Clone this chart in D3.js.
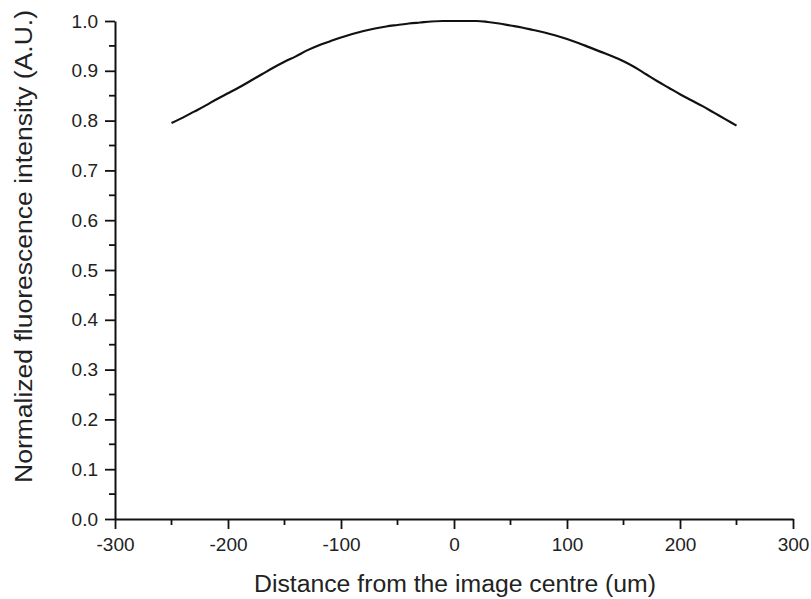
<!DOCTYPE html>
<html>
<head>
<meta charset="utf-8">
<script src="https://cdn.jsdelivr.net/npm/d3@7"></script>
<style>
  html, body { margin: 0; padding: 0; background: #fff; }
  svg { display: block; font-family: "Liberation Sans", Arial, sans-serif; }
</style>
</head>
<body>
<svg id="chart" width="811" height="599"></svg>
<script>
// Distance from image centre (um)
const distance = [-250,-240,-230,-220,-210,-200,-190,-180,-170,-160,-150,-140,-130,-120,-110,-100,-90,-80,-70,-60,-50,-40,-30,-20,-10,0,10,20,30,40,50,60,70,80,90,100,110,120,130,140,150,160,170,180,190,200,210,220,230,240,250];
// Normalized fluorescence intensity (A.U.)
const intensity = [0.795,0.806,0.818,0.830,0.843,0.855,0.867,0.880,0.893,0.906,0.918,0.929,0.941,0.951,0.959,0.967,0.974,0.980,0.985,0.989,0.992,0.995,0.997,0.999,1.000,1.000,1.000,1.000,0.998,0.995,0.991,0.987,0.982,0.977,0.971,0.964,0.956,0.947,0.938,0.929,0.919,0.907,0.893,0.879,0.866,0.853,0.841,0.829,0.816,0.803,0.790];
const xTicks = [-300,-200,-100,0,100,200,300];
const yTicks = [0.0,0.1,0.2,0.3,0.4,0.5,0.6,0.7,0.8,0.9,1.0];
const xTitle = "Distance from the image centre (um)";
const yTitle = "Normalized fluorescence intensity (A.U.)";

const svg = d3.select("#chart");
const x = d3.scaleLinear().domain([-300, 300]).range([115, 793]);
const y = d3.scaleLinear().domain([0, 1.0]).range([519, 21]);

const xMinor = d3.range(-300, 301, 50).filter(v => !xTicks.includes(v));
const yMinor = d3.range(0, 21).map(i => i * 0.05).filter((v, i) => i % 2 === 1);

// x axis
const gx = svg.append("g").attr("transform", `translate(0,${y(0)})`);
gx.call(d3.axisBottom(x).tickValues(xTicks).tickFormat(d => String(d)).tickSize(10).tickSizeOuter(0).tickPadding(9));
gx.append("g").selectAll("line").data(xMinor).join("line")
  .attr("x1", d => x(d)).attr("x2", d => x(d)).attr("y1", 0).attr("y2", 6)
  .attr("stroke", "#111").attr("stroke-width", 1.8);

// y axis
const gy = svg.append("g").attr("transform", `translate(${x(-300)},0)`);
gy.call(d3.axisLeft(y).tickValues(yTicks).tickFormat(d3.format(".1f")).tickSize(10).tickSizeOuter(0).tickPadding(7));
gy.append("g").selectAll("line").data(yMinor).join("line")
  .attr("y1", d => y(d)).attr("y2", d => y(d)).attr("x1", 0).attr("x2", -6)
  .attr("stroke", "#111").attr("stroke-width", 1.8);

[gx, gy].forEach(g => {
  g.select(".domain").attr("stroke", "#111").attr("stroke-width", 2);
  g.selectAll(".tick line").attr("stroke", "#111").attr("stroke-width", 1.8);
  g.selectAll(".tick text").attr("fill", "#222").attr("font-size", 19)
    .attr("font-family", "'Liberation Sans', Arial, sans-serif");
});

// line
svg.append("path")
  .datum(distance.map((d, i) => [d, intensity[i]]))
  .attr("fill", "none").attr("stroke", "#111").attr("stroke-width", 2.2)
  .attr("d", d3.line().x(d => x(d[0])).y(d => y(d[1])).curve(d3.curveMonotoneX));

// titles
svg.append("text").attr("x", 455).attr("y", 592).attr("text-anchor", "middle")
  .attr("font-size", 23).attr("fill", "#222")
  .attr("textLength", 402).attr("lengthAdjust", "spacingAndGlyphs").text(xTitle);
svg.append("text").attr("transform", "translate(32,246.5) rotate(-90)").attr("text-anchor", "middle")
  .attr("font-size", 23).attr("fill", "#222")
  .attr("textLength", 473).attr("lengthAdjust", "spacingAndGlyphs").text(yTitle);
</script>
</body>
</html>
